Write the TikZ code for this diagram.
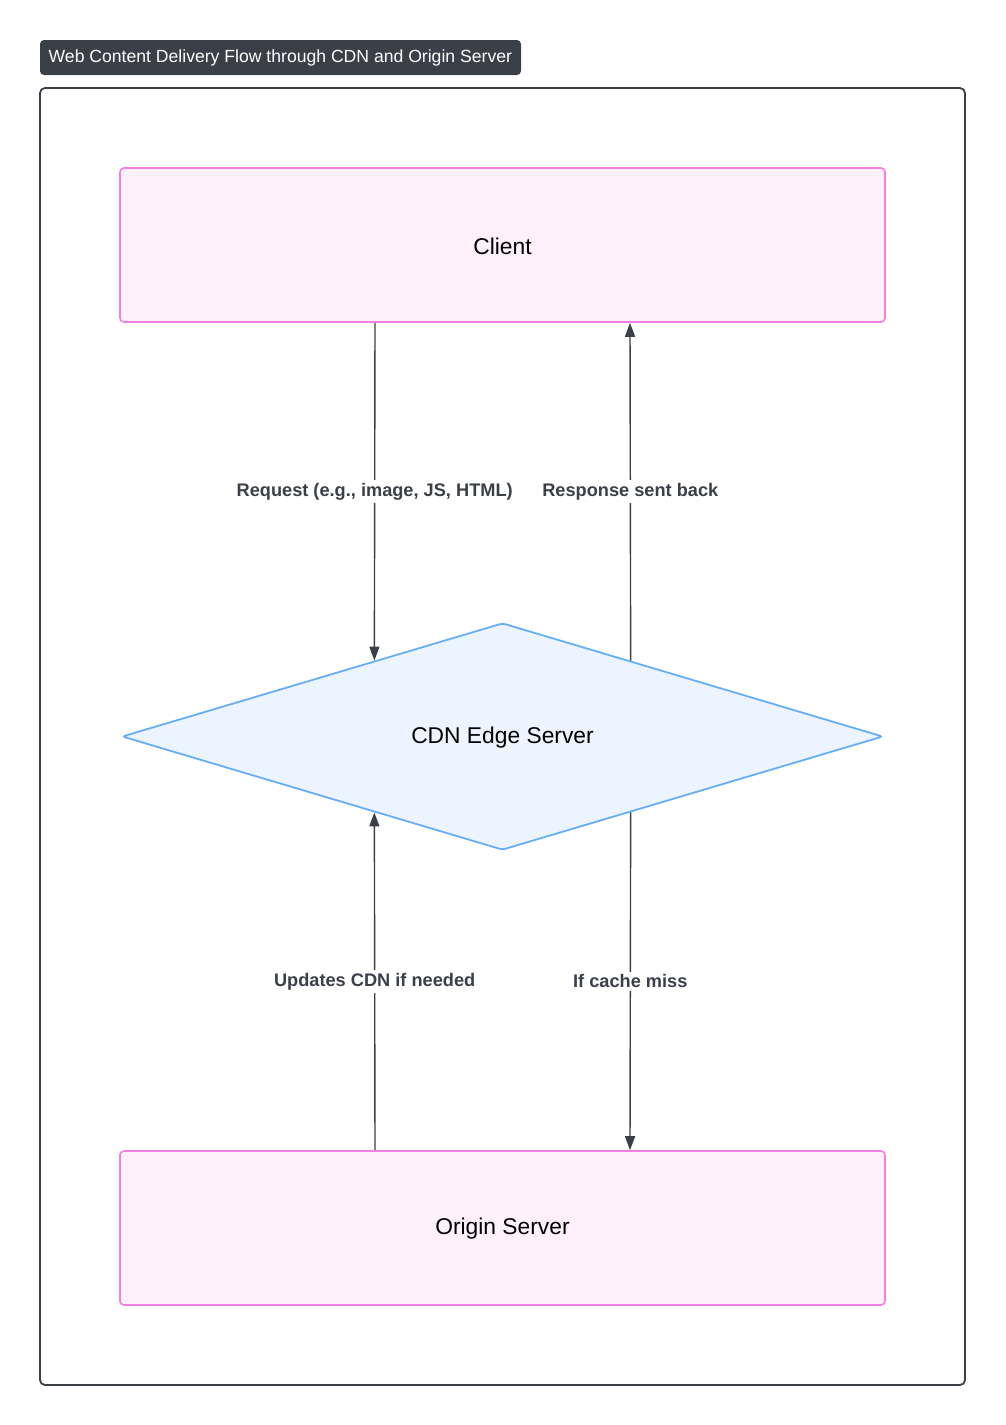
\documentclass[tikz,border=0pt]{standalone}
\usepackage{fontspec}
\setmainfont{Liberation Sans}
\usetikzlibrary{shapes.geometric,arrows.meta,calc}
\definecolor{slate}{HTML}{3B3F48}
\definecolor{pinkfill}{HTML}{FFF0FA}
\definecolor{pinkline}{HTML}{F57FE0}
\definecolor{bluefill}{HTML}{EBF4FF}
\definecolor{blueline}{HTML}{66AEFA}
\tikzset{
  nodetext/.style={font=\fontsize{22.8}{26}\selectfont},
  procbox/.style={draw=pinkline,fill=pinkfill,line width=1.6pt,rounded corners=4pt,minimum width=765pt,minimum height=154pt,inner sep=0pt},
  decbox/.style={diamond,draw=blueline,fill=bluefill,line width=1.8pt,rounded corners=3pt,minimum width=761pt,minimum height=227pt,inner sep=0pt},
  flow/.style={draw=slate,line width=1.4pt,-{Triangle[length=14pt,width=10pt]}},
  edgelabel/.style={fill=white,text=slate,font=\fontsize{18.2}{21}\selectfont\bfseries,inner sep=3pt},
}
\begin{document}
\begin{tikzpicture}[x=1pt,y=-1pt]
\useasboundingbox (0,0) rectangle (1005,1425);
\path[fill=slate,rounded corners=4pt] (40,40) rectangle (521,75);
\node[text=white,anchor=west,inner sep=0pt,font=\fontsize{17.6}{20}\selectfont] (title) at (48.5,57.5) {Web Content Delivery Flow through CDN and Origin Server};
\node[draw=slate,line width=1.8pt,rounded corners=5pt,minimum width=925pt,minimum height=1297pt,inner sep=0pt] (frame) at (502.5,736.5) {};
\node[procbox] (client) at (502.5,245) {};
\node[nodetext] (clientlbl) at (502.5,246) {Client};
\node[decbox] (cdn) at (502.5,736.5) {};
\node[nodetext] (cdnlbl) at (502.5,737.5) {CDN Edge Server};
\node[procbox] (origin) at (502.5,1228) {};
\node[nodetext] (originlbl) at (502.5,1229) {Origin Server};
\coordinate (lx) at (375,0);
\coordinate (rx) at (630,0);
\coordinate (cdnTL) at ($(cdn.west)!0.664!(cdn.north)$);
\coordinate (cdnTR) at ($(cdn.east)!0.664!(cdn.north)$);
\coordinate (cdnBL) at ($(cdn.west)!0.664!(cdn.south)$);
\coordinate (cdnBR) at ($(cdn.east)!0.664!(cdn.south)$);
\draw[flow] (client.south -| lx) -- node[edgelabel,pos=0.5] {Request (e.g., image, JS, HTML)} (cdnTL);
\draw[flow] (cdnTR) -- node[edgelabel,pos=0.5] {Response sent back} (client.south -| rx);
\draw[flow] (origin.north -| lx) -- node[edgelabel,pos=0.5] {Updates CDN if needed} (cdnBL);
\draw[flow] (cdnBR) -- node[edgelabel,pos=0.5] {If cache miss} (origin.north -| rx);
\end{tikzpicture}
\end{document}
